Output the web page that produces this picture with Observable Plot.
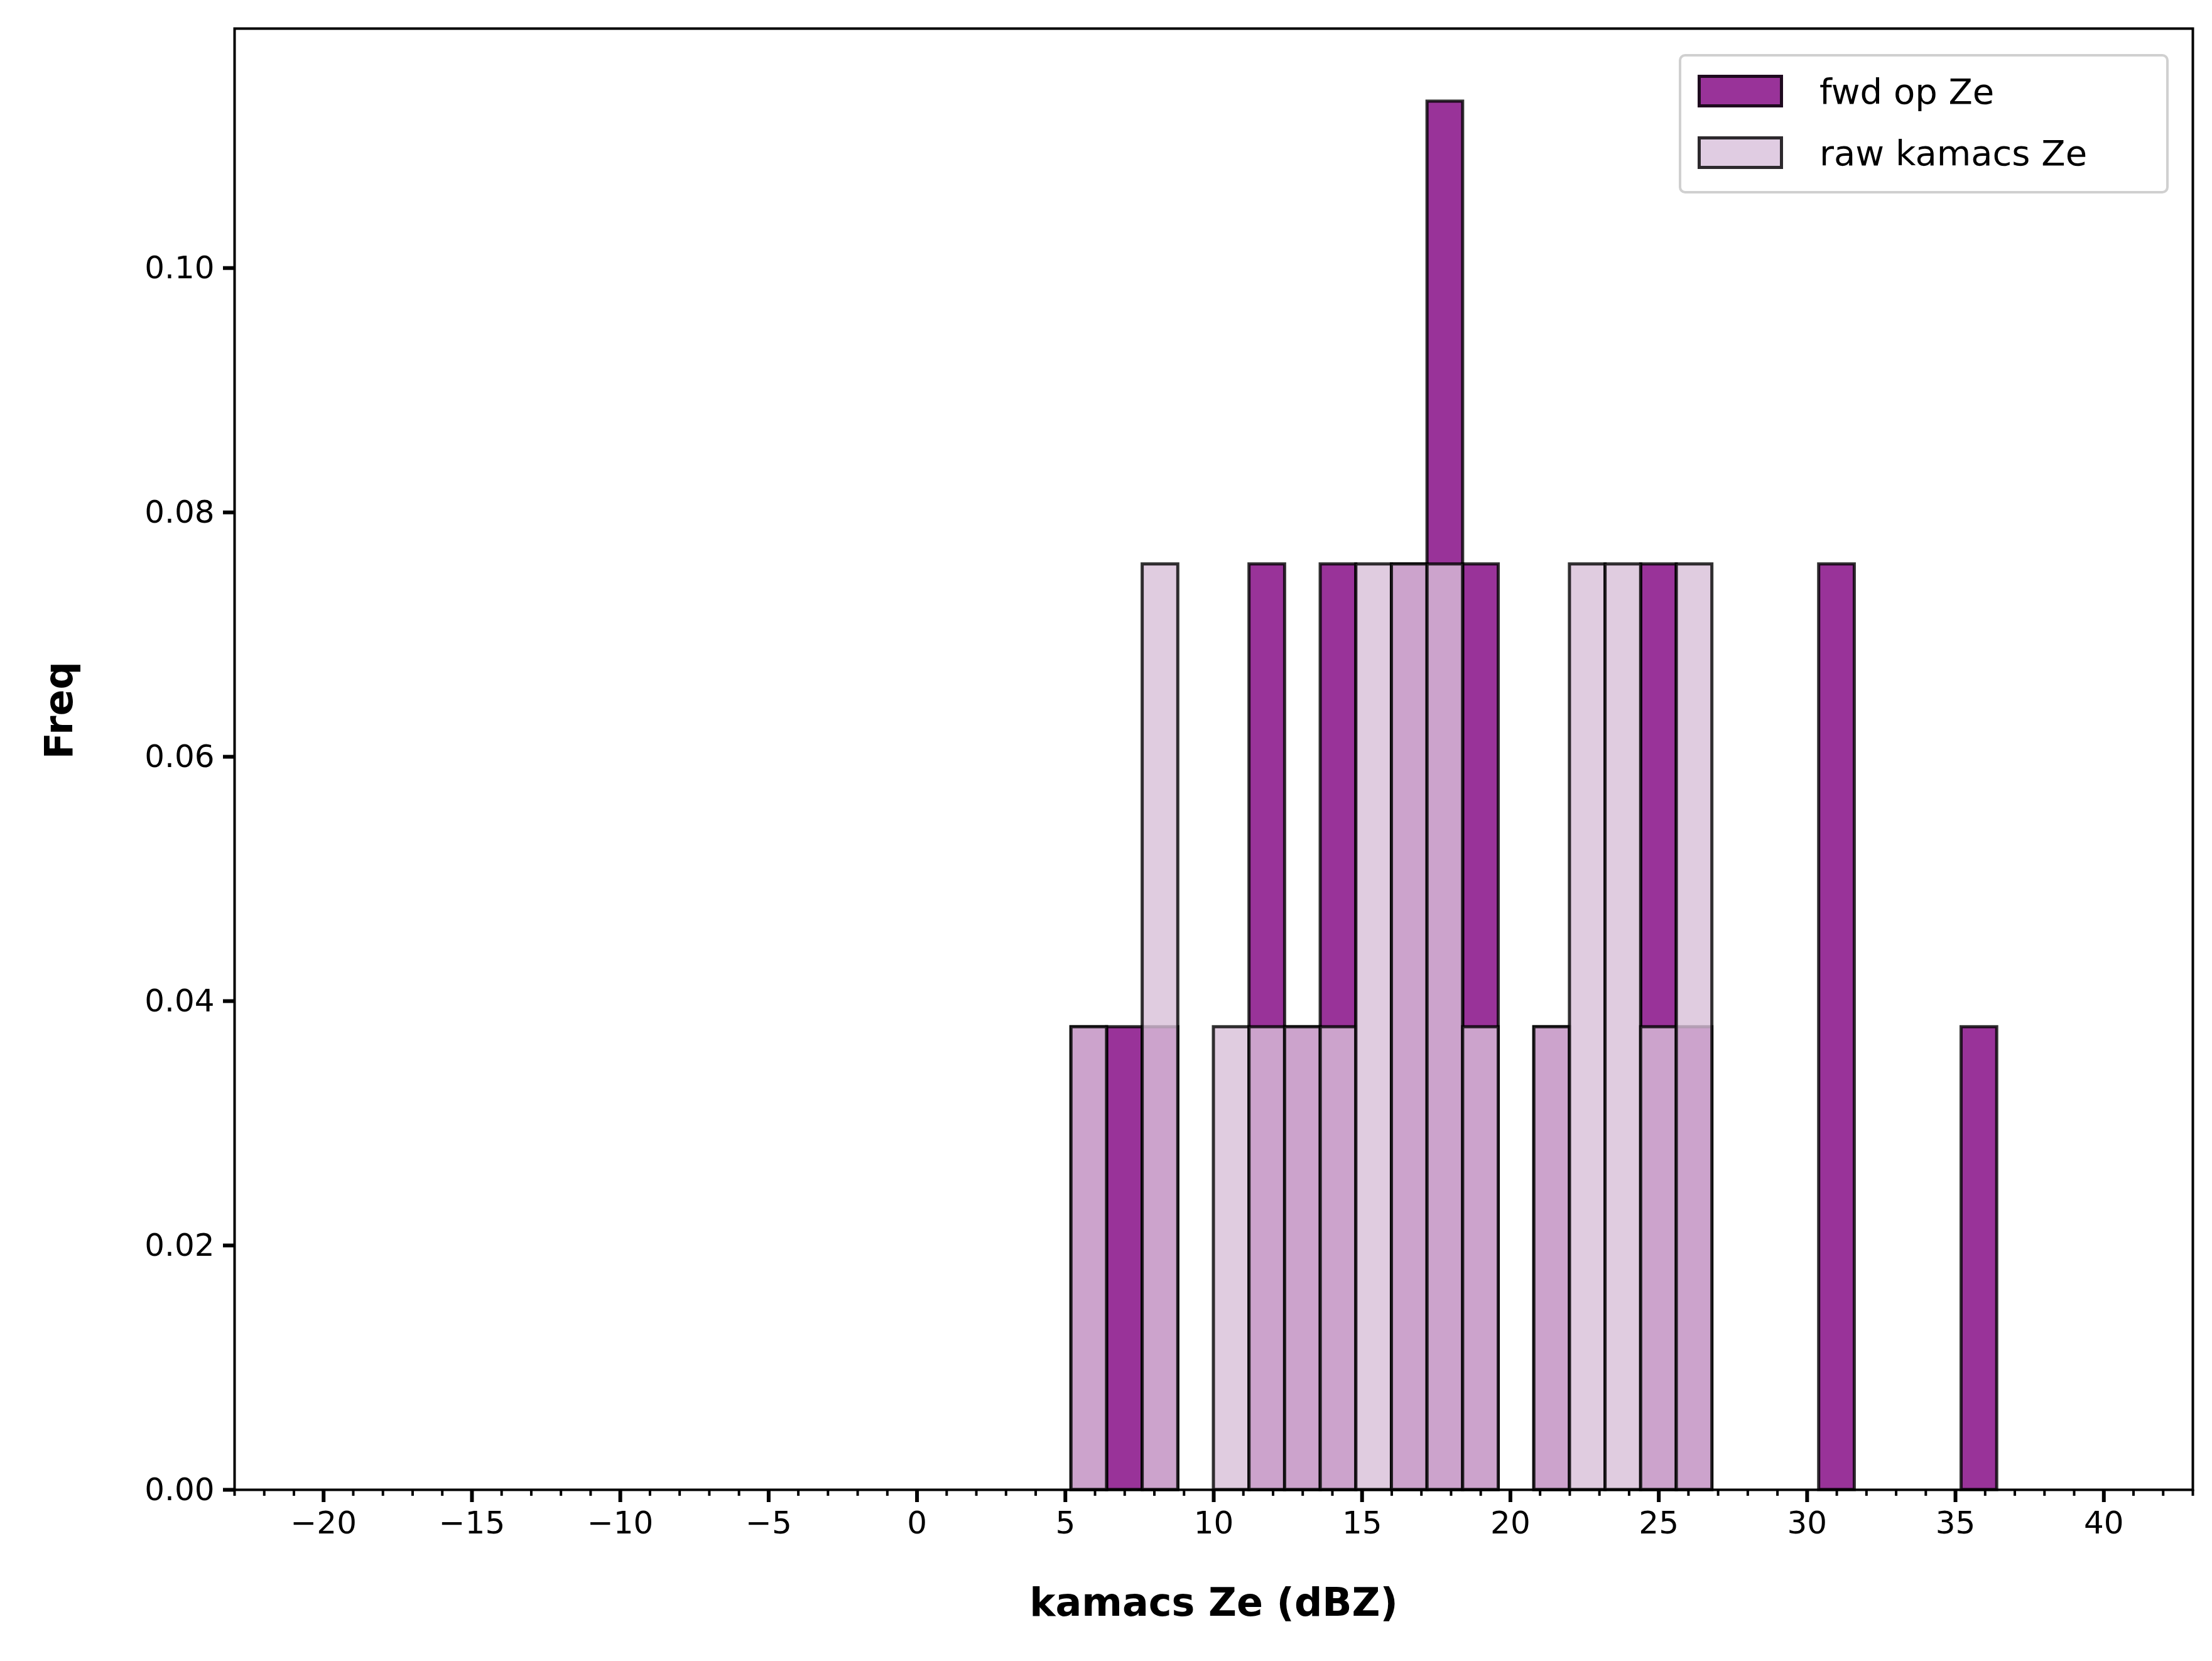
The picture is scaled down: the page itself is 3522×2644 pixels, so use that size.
<!DOCTYPE html>
<html><head><meta charset="utf-8">
<script src="https://cdn.jsdelivr.net/npm/d3@7"></script>
<script src="https://cdn.jsdelivr.net/npm/@observablehq/plot@0.6"></script>
<style>
body{margin:0;background:#fff;font-family:"DejaVu Sans",sans-serif;}
#wrap{position:relative;width:3522px;height:2644px;}
#legend{position:absolute;left:2673px;top:86px;width:780px;height:222px;border:4px solid #d0d0d0;border-radius:10px;box-sizing:border-box;background:rgba(255,255,255,0.8);font-size:56px;}
.item{position:absolute;left:26px;display:flex;align-items:center;}
.sw{width:136px;height:52px;box-sizing:border-box;border:5px solid rgba(0,0,0,0.8);margin-right:58px;}
</style></head>
<body><div id="wrap"><div id="legend"></div></div>
<script>
const binStart = 5.2, binWidth = 1.2;
const unit = 1/26.4;
// counts per bin (units of 1/26.4 density)
const fwdCounts = [1,1,1,0,0,2,1,2,0,2,3,2,0,1,0,0,2,1,0,0,0,2,0,0,0,1];
const rawCounts = [1,0,2,0,1,1,1,1,2,2,2,1,0,1,2,2,1,2,0,0,0,0,0,0,0,0];
const seriesNames = ["fwd op Ze","raw kamacs Ze"];
const seriesColors = ["purple","thistle"];
const xTicks = d3.range(-20,41,5);
const yTicks = [0,0.02,0.04,0.06,0.08,0.10];

function toBars(counts){
  return counts.map((c,i)=>({x1:binStart+i*binWidth,x2:binStart+(i+1)*binWidth,y:c*unit})).filter(d=>d.y>0);
}
const fwd = toBars(fwdCounts), raw = toBars(rawCounts);
const fmt = v => (v<0?"\u2212":"")+Math.abs(v);

const plot = Plot.plot({
  width:3522, height:2644,
  marginLeft:373, marginRight:31, marginTop:45, marginBottom:273,
  style:{fontFamily:"DejaVu Sans", fontSize:"50px", background:"white"},
  x:{domain:[-23,43]},
  y:{domain:[0,0.1196]},
  marks:[
    Plot.rectY(fwd,{x1:"x1",x2:"x2",y:"y",fill:seriesColors[0],fillOpacity:0.8,stroke:"black",strokeOpacity:0.8,strokeWidth:5}),
    Plot.rectY(raw,{x1:"x1",x2:"x2",y:"y",fill:seriesColors[1],fillOpacity:0.8,stroke:"black",strokeOpacity:0.8,strokeWidth:5}),
    Plot.axisX({ticks:d3.range(-23,44),tickSize:10,strokeWidth:4,text:null,label:null}),
    Plot.axisX({ticks:xTicks,tickSize:20,strokeWidth:6,tickFormat:fmt,tickPadding:14,fontSize:50,label:null}),
    Plot.axisY({ticks:yTicks,tickSize:18,strokeWidth:6,tickFormat:d3.format(".2f"),tickPadding:14,fontSize:50,label:null}),
    Plot.frame({stroke:"black",strokeWidth:4}),
    Plot.text(["kamacs Ze (dBZ)"],{frameAnchor:"bottom",dy:200,fontSize:62,fontWeight:"bold"}),
    Plot.text(["Freq"],{frameAnchor:"left",dx:-278,rotate:-90,fontSize:62,fontWeight:"bold"})
  ]
});
document.getElementById("wrap").prepend(plot);
const leg = document.getElementById("legend");
seriesNames.forEach((n,i)=>{
  const it=document.createElement("div");it.className="item";it.style.top=(i?108:10)+"px";it.style.height="90px";
  const sw=document.createElement("div");sw.className="sw";sw.style.background=seriesColors[i];sw.style.opacity="1";
  sw.style.background=i?"rgb(224,204,226)":"rgb(153,51,153)";
  it.appendChild(sw);const t=document.createElement("span");t.textContent=n;it.appendChild(t);leg.appendChild(it);
});
</script></body></html>
